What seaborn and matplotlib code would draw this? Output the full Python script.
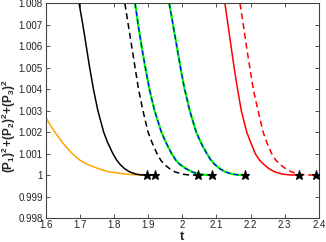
import numpy as np
import seaborn as sns
import matplotlib
from matplotlib import pyplot as plt
from matplotlib.ticker import FuncFormatter

sns.set_theme(style='white')
plt.rcParams['font.family'] = ['Liberation Sans', 'DejaVu Sans']
plt.rcParams['mathtext.fontset'] = 'custom'
plt.rcParams['mathtext.bf'] = 'Liberation Sans:bold'
plt.rcParams['mathtext.rm'] = 'Liberation Sans'

# curves: t values and (P1)^2+(P2)^2+(P3)^2 values
levels = [1.008, 1.007, 1.006, 1.005, 1.004, 1.003, 1.002, 1.0015, 1.001,
          1.0007, 1.0005, 1.0003, 1.00015, 1.00005, 1.00001, 1.0]

orange_t = [1.600, 1.607, 1.627, 1.650, 1.678, 1.700, 1.722, 1.755, 1.785, 1.835, 1.865, 1.898]
orange_v = [1.00272, 1.0025, 1.0020, 1.0015, 1.0010, 1.0007, 1.0005, 1.0003, 1.00015, 1.00005, 1.00001, 1.0]

black_t = [1.698, 1.709, 1.719, 1.729, 1.740, 1.753, 1.770, 1.782, 1.797,
           1.808, 1.818, 1.831, 1.846, 1.864, 1.879, 1.898, 1.920]
black_v = levels + [1.0]

black_dash_t = [1.832, 1.842, 1.852, 1.862, 1.872, 1.885, 1.900, 1.912, 1.926,
                1.937, 1.947, 1.963, 1.979, 1.999, 2.017, 2.047]
green1_t = [1.862, 1.871, 1.881, 1.892, 1.904, 1.919, 1.939, 1.953, 1.969,
            1.981, 1.993, 2.011, 2.029, 2.049, 2.066, 2.086]
green2_t = [1.962, 1.973, 1.984, 1.995, 2.007, 2.022, 2.041, 2.055, 2.072,
            2.084, 2.095, 2.110, 2.126, 2.146, 2.163, 2.184]
red_t = [2.125, 2.134, 2.143, 2.152, 2.162, 2.173, 2.189, 2.201, 2.214,
         2.226, 2.239, 2.254, 2.271, 2.292, 2.314, 2.342]
red_dash_t = [2.169, 2.179, 2.188, 2.198, 2.208, 2.222, 2.237, 2.248, 2.262,
              2.274, 2.286, 2.303, 2.320, 2.340, 2.362, 2.391]

end_t = [1.898, 1.920, 2.047, 2.086, 2.184, 2.342, 2.391]
end_v = [1.0, 1.0, 1.0, 1.0, 1.0, 1.0, 1.0]

fig, ax = plt.subplots(figsize=(3.26, 2.42), dpi=100)
fig.subplots_adjust(left=0.14, right=0.978, top=0.986, bottom=0.099)

lw = 1.1
dash = (0, (4, 2.5))
kw = dict(sort=False, estimator=None, ax=ax)
sns.lineplot(x=orange_t, y=orange_v, color='#ffa500', lw=lw, **kw)
sns.lineplot(x=black_t, y=black_v, color='black', lw=lw, **kw)
sns.lineplot(x=black_dash_t, y=levels, color='black', lw=lw, linestyle=dash, **kw)
for gt in [green1_t, green2_t]:
    sns.lineplot(x=gt, y=levels, color='#00ff00', lw=lw + 0.5, **kw)
    sns.lineplot(x=gt, y=levels, color='#0000ff', lw=lw * 0.8, linestyle=dash, **kw)
sns.lineplot(x=red_t, y=levels, color='red', lw=lw, **kw)
sns.lineplot(x=red_dash_t, y=levels, color='red', lw=lw, linestyle=dash, **kw)
ax.plot(end_t, end_v, ls='none', marker='*', ms=6.5, mew=0.8, color='black', zorder=5)

ax.set_xlim(1.6, 2.4)
ax.set_ylim(0.998, 1.008)
ax.set_xticks(np.round(np.arange(1.6, 2.41, 0.1), 1))
ax.set_yticks(np.round(np.arange(0.998, 1.0081, 0.001), 3))
ax.xaxis.set_major_formatter(FuncFormatter(lambda v, p: f'{v:g}'))
ax.yaxis.set_major_formatter(FuncFormatter(lambda v, p: f'{v:g}'))
ax.tick_params(direction='in', length=3, width=0.6, labelsize=7, colors='#333333',
               top=True, right=True, bottom=True, left=True, pad=2)
ax.tick_params(axis='x', pad=1.5)
ax.tick_params(labelcolor='#222222')
for s in ax.spines.values():
    s.set_color('#444444')
    s.set_linewidth(0.8)

ax.set_xlabel('t', fontsize=9.5, fontweight='bold', va='baseline')
ax.xaxis.set_label_coords(0.5, -0.1)
ax.set_ylabel(r'$\mathbf{(P_1)^2\!+\!(P_2)^2\!+\!(P_3)^2}$', fontsize=8.5)
ax.yaxis.set_label_coords(-0.1, 0.43)

fig.savefig('out.png', dpi=100)
